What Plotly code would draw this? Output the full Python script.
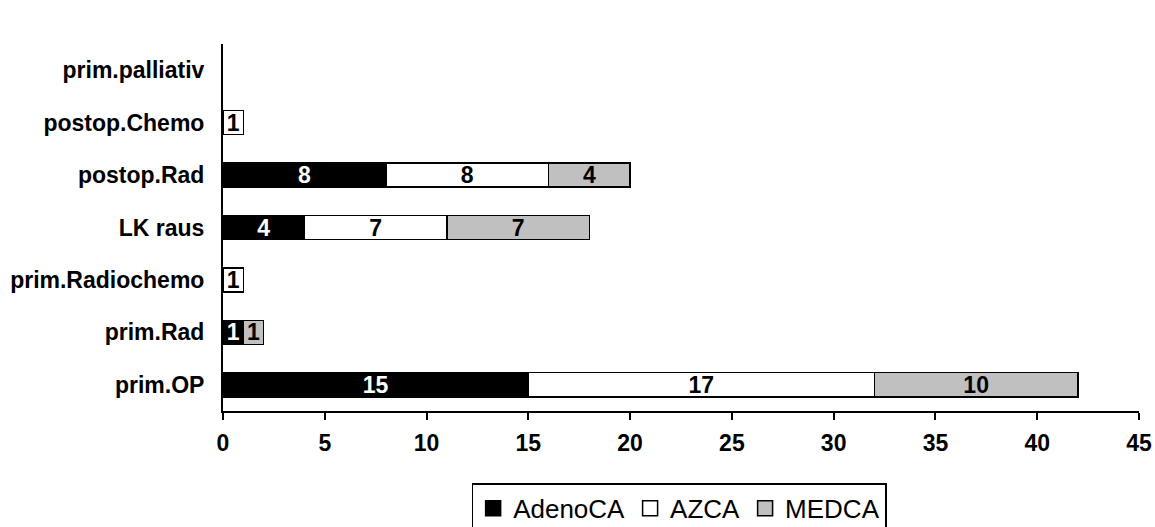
import plotly.graph_objects as go

# Treatment categories, listed bottom to top
categories = ["prim.OP", "prim.Rad", "prim.Radiochemo", "LK raus",
              "postop.Rad", "postop.Chemo", "prim.palliativ"]

# Case counts per tumour type
adeno_ca = [15, 1, 0, 4, 8, 0, 0]
azca = [17, 0, 1, 7, 8, 1, 0]
medca = [10, 1, 0, 7, 4, 0, 0]

series = [
    ("AdenoCA", adeno_ca, "#000000", "#ffffff"),
    ("AZCA", azca, "#ffffff", "#000000"),
    ("MEDCA", medca, "#c0c0c0", "#000000"),
]

FONT = "Liberation Sans, Arial, sans-serif"

fig = go.Figure()
for name, vals, fill, txtcol in series:
    # empty cells get no bar (and no outline) at all
    xs = [v if v else None for v in vals]
    fig.add_trace(go.Bar(
        name=name,
        legendgroup=name,
        showlegend=False,
        y=categories,
        x=xs,
        orientation="h",
        marker=dict(color=fill, line=dict(color="#000000", width=1.5)),
        text=[str(v) if v else "" for v in vals],
        textposition="inside",
        insidetextanchor="middle",
        textangle=0,
        constraintext="none",
        insidetextfont=dict(family=FONT, size=23, color=txtcol, weight="bold"),
        hoverinfo="x+y+name",
    ))

# legend keys: larger outlined squares for each series
for name, vals, fill, txtcol in series:
    fig.add_trace(go.Scatter(
        name=name,
        legendgroup=name,
        x=[None],
        y=[None],
        mode="markers",
        marker=dict(symbol="square", size=15, color=fill,
                    line=dict(color="#000000", width=1.5)),
        hoverinfo="skip",
    ))

fig.update_layout(
    width=1155,
    height=527,
    barmode="stack",
    bargap=0.54,
    plot_bgcolor="#ffffff",
    paper_bgcolor="#ffffff",
    margin=dict(l=223, r=16, t=44, b=116),
    font=dict(family=FONT, color="#000000"),
    xaxis=dict(
        range=[0, 45],
        dtick=5,
        automargin=False,
        showgrid=False,
        zeroline=False,
        showline=True,
        linecolor="#000000",
        linewidth=2,
        ticks="outside",
        ticklen=7,
        tickwidth=2,
        tickcolor="#000000",
        ticklabelstandoff=3,
        tickfont=dict(family=FONT, size=23, weight="bold"),
    ),
    yaxis=dict(
        categoryorder="array",
        categoryarray=categories,
        automargin=False,
        showgrid=False,
        zeroline=False,
        showline=True,
        linecolor="#000000",
        linewidth=2,
        ticks="",
        ticklabelstandoff=12,
        tickfont=dict(family=FONT, size=23, weight="bold"),
    ),
    legend=dict(
        orientation="h",
        traceorder="normal",
        xref="container",
        yref="container",
        x=0.588,
        xanchor="center",
        y=0.083,
        yanchor="top",
        bordercolor="#000000",
        borderwidth=1.5,
        itemwidth=30,
        itemsizing="trace",
        font=dict(family=FONT, size=26),
    ),
    showlegend=True,
)

fig.write_html("out.html")
